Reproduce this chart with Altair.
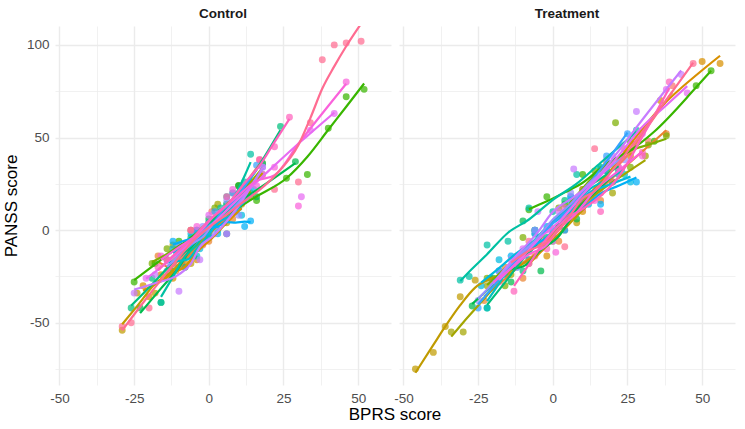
import altair as alt
import pandas as pd

groups = ["Control", "Treatment"]
subjects = [str(i) for i in range(1, 21)]
colors = ["#F8766D", "#EA8331", "#D89000", "#C09B00", "#A3A500", "#7CAE00",
          "#39B600", "#00BB4E", "#00BF7D", "#00C1A3", "#00BFC4", "#00BAE0",
          "#00B0F6", "#35A2FF", "#9590FF", "#C77CFF", "#E76BF3", "#FA62DB",
          "#FF62BC", "#FF6C91"]

ctrl_x = [
    [-13, -9, -6, -2, 1, 4, 8, 13, 17],
    [-17, -14, -11, -8, -4, 0, 4, 8, 12],
    [-22, -20, -16, -12, -8, -4, 1, 6, 11],
    [-29, -24, -18, -12, -6, 0, 6, 13, 18],
    [-12, -8, -4, 0, 3, 7, 10, 14, 18],
    [-19, -14, -10, -6, -2, 2, 6, 10, 14],
    [-25, -18, -10, -2, 6, 16, 26, 33, 40, 46, 52],
    [-23, -16, -10, -5, 0, 5, 10, 16, 29],
    [-26, -19, -12, -6, 0, 6, 12, 18, 24],
    [-16, -12, -8, -4, 0, 4, 8, 12, 14],
    [-14, -10, -7, -4, 0, 3, 6, 10, 14],
    [-12, -9, -6, -3, 0, 3, 7, 11, 15],
    [-12, -8, -4, 0, 3, 6, 9, 12, 14],
    [-10, -7, -4, -1, 2, 5, 8, 12, 16],
    [-14, -10, -6, -2, 2, 6, 10, 14, 18],
    [-25, -18, -10, -6, -3, 1, 6, 10, 18],
    [-21, -14, -7, 0, 8, 18, 31, 34, 42],
    [-16, -10, -4, 2, 8, 16, 22, 30, 46],
    [-17, -12, -6, 0, 6, 12, 17, 22, 27],
    [-29, -26, -20, -14, -6, 8, 22, 30, 34, 38, 42, 46, 51],
]
ctrl_y = [
    [-20, -18, -6, -8, 10, 5, 20, 22, 38],
    [-14, -25, -22, -20, -4, -6, 10, 6, 18],
    [-30, -36, -24, -26, -18, -16, 2, -2, 14],
    [-54, -34, -34, -16, -18, 4, 4, 24, 30],
    [-8, -14, 0, -2, 14, 10, 24, 20, 36],
    [-18, -10, -14, 0, -4, 12, 6, 24, 18],
    [-28, -18, -6, -4, 14, 16, 28, 30, 55, 72, 76],
    [-42, -39, -12, -14, 6, 4, 24, 18, 37],
    [-42, -26, -22, -4, -2, 18, 18, 36, 56],
    [-39, -18, -20, -2, -4, 12, 10, 26, 41],
    [-16, -20, -14, -14, 2, 0, 14, 12, 26],
    [-10, -16, -2, -10, 4, -2, 14, 8, 22],
    [-6, -10, 0, -2, 8, -2, 10, 2, 5],
    [-8, -12, 0, -4, 10, 6, 20, 18, 35],
    [-22, -8, -14, 2, -2, 16, 8, 24, 34],
    [-34, -24, -33, -10, -16, 4, -2, 14, 34],
    [-26, -16, -14, 8, 10, 30, 18, 54, 63],
    [-14, -14, 2, 2, 22, 24, 34, 13, 80],
    [-20, -18, 0, 0, 18, 20, 38, 45, 61],
    [-52, -50, -42, -16, 0, 12, 22, 26, 58, 92, 100, 101, 102],
]

trt_x = [
    [-12, -6, -1, 4, 10, 16, 24, 32, 40],
    [-23, -16, -10, -4, 2, 8, 16, 26, 38],
    [-8, -2, 4, 10, 18, 26, 36, 50, 56],
    [-46, -40, -36, -31, -26, -21, -15, -8, 0, 8, 14],
    [-34, -30, -22, -14, -6, 2, 10, 20, 31],
    [-22, -16, -10, -4, 2, 8, 14, 21, 26, 32, 38],
    [-8, -2, 4, 10, 18, 26, 34, 48, 53],
    [-27, -20, -14, -10, -4, 2, 8, 14, 20],
    [-22, -16, -10, -6, -2, 4, 10, 16, 22],
    [-31, -28, -22, -15, -8, 0, 8, 16, 28],
    [-22, -18, -12, -6, 0, 6, 12, 18, 24],
    [-24, -18, -12, -6, 0, 6, 12, 18, 26],
    [-20, -14, -8, -2, 4, 10, 16, 22, 28],
    [-25, -18, -12, -6, 0, 6, 12, 18, 25],
    [-25, -18, -12, -6, 0, 6, 12, 18, 24],
    [-20, -14, -5, 0, 7, 14, 22, 28, 43],
    [-18, -10, -4, 2, 10, 20, 30, 38, 45],
    [-20, -14, -8, -2, 1, 8, 14, 22, 30],
    [-13, -8, -2, 4, 10, 16, 22, 30, 39],
    [-14, -8, -2, 4, 10, 14, 20, 30, 47],
]
trt_y = [
    [-14, -14, 2, 0, 22, 20, 44, 48, 78],
    [-38, -20, -26, -4, -6, 16, 16, 42, 52],
    [-16, -14, 6, 10, 36, 40, 70, 91, 90],
    [-75, -66, -52, -36, -27, -26, -24, -18, -6, 4, 20],
    [-55, -55, -30, -24, 0, 2, 22, 20, 40],
    [-26, -30, -4, -8, 12, 12, 32, 58, 34, 46, 51],
    [11, 18, 14, 30, 32, 48, 48, 78, 86],
    [-41, -26, -28, 5, -22, 2, 6, 28, 26],
    [-42, -24, -22, -2, -4, 16, 16, 34, 32],
    [-27, -25, -8, -6, 12, 10, 30, 33, 54],
    [-42, -22, -18, 0, 0, 18, 16, 34, 30],
    [-30, -16, -18, 0, -2, 16, 14, 32, 26],
    [-30, -14, -16, 2, 0, 18, 14, 30, 26],
    [-42, -22, -20, -2, -2, 18, 18, 40, 52],
    [-38, -22, -20, 0, 0, 20, 20, 38, 38],
    [-28, -20, 10, -6, 33, 20, 34, 64, 84],
    [-28, -10, -10, 10, 14, 40, 52, 76, 74],
    [-30, -16, -18, 0, -12, 16, 16, 38, 40],
    [-33, -12, -10, 12, 12, 10, 34, 42, 80],
    [-20, -6, -6, -9, 20, 44, 26, 54, 90],
]

x_ticks = [-50, -37.5, -25, -12.5, 0, 12.5, 25, 37.5, 50]
y_ticks = [-75, -50, -25, 0, 25, 50, 75, 100]

rows = []
for grp, xs, ys in ((groups[0], ctrl_x, ctrl_y), (groups[1], trt_x, trt_y)):
    for s, xl, yl in zip(subjects, xs, ys):
        for a, b in zip(xl, yl):
            rows.append({"group": grp, "subject": s, "bprs": a, "panss": b})
df = pd.DataFrame(rows)

FONT = "Liberation Sans"

x_enc = alt.X(
    "bprs:Q",
    scale=alt.Scale(domain=[-51.5, 61], nice=False, zero=False),
    axis=alt.Axis(
        values=x_ticks, title=None,
        labelExpr="datum.value % 25 === 0 ? '' + datum.value : ''",
        gridWidth={"condition": {"test": "datum.value % 25 === 0", "value": 1.4}, "value": 0.7},
    ),
)
y_enc = alt.Y(
    "panss:Q",
    scale=alt.Scale(domain=[-83.6, 110.2], nice=False, zero=False),
    axis=alt.Axis(
        values=y_ticks, title="PANSS score",
        labelExpr="datum.value % 50 === 0 ? '' + datum.value : ''",
        gridWidth={"condition": {"test": "datum.value % 50 === 0", "value": 1.4}, "value": 0.7},
    ),
)
color_enc = alt.Color("subject:N", scale=alt.Scale(domain=subjects, range=colors), legend=None)

points = alt.Chart().mark_circle(size=48, opacity=0.72, clip=True).encode(
    x=x_enc, y=y_enc, color=color_enc
)
lines = alt.Chart().transform_loess(
    "bprs", "panss", groupby=["group", "subject"], bandwidth=0.6
).mark_line(strokeWidth=2.2, interpolate="monotone", clip=True).encode(
    x=x_enc, y=y_enc, color=color_enc
)

chart = alt.layer(points, lines, data=df).properties(width=336, height=359).facet(
    column=alt.Column(
        "group:N", sort=groups, title="BPRS score",
        header=alt.Header(
            labelOrient="top", titleOrient="bottom",
            labelFont=FONT, labelFontSize=13.5, labelFontWeight="bold", labelColor="#1A1A1A",
            labelPadding=6,
            titleFont=FONT, titleFontSize=17, titleFontWeight="normal", titleColor="black",
            titlePadding=-8,
        ),
    ),
    spacing=8,
).configure_view(stroke=None).configure_axis(
    domain=False, ticks=False, gridColor="#EBEBEB",
    labelFont=FONT, labelFontSize=13.5, labelColor="#4D4D4D", labelPadding=6,
    titleFont=FONT, titleFontSize=17, titleFontWeight="normal", titleColor="black",
    titlePadding=6,
).properties(background="white", padding={"left": 2, "right": 5, "top": 6, "bottom": 2})

chart.save("out.html", embed_options={"renderer": "svg", "actions": False})
